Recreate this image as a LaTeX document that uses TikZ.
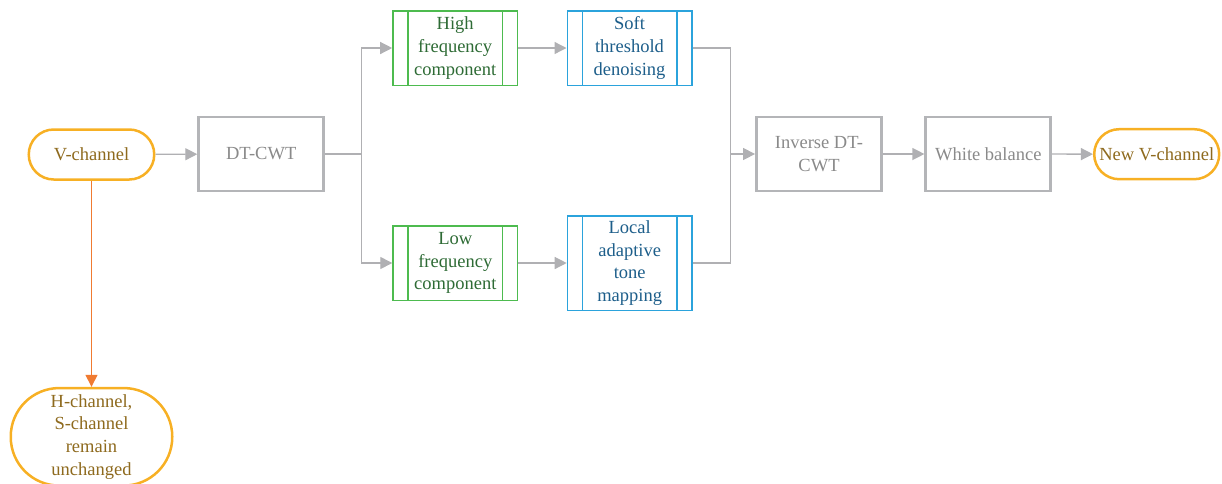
\documentclass[tikz,border=0pt]{standalone}
\usepackage{fontspec}
\setmainfont{Liberation Serif}
\usetikzlibrary{arrows.meta,calc}
\definecolor{orB}{HTML}{F7B024}
\definecolor{orT}{HTML}{8E6A1E}
\definecolor{grB}{HTML}{B4B5B8}
\definecolor{grT}{HTML}{8A8A8A}
\definecolor{gnB}{HTML}{4DBB4F}
\definecolor{gnT}{HTML}{2E6B35}
\definecolor{buB}{HTML}{2BA3DC}
\definecolor{buT}{HTML}{1D5E8A}
\definecolor{arG}{HTML}{B0B0B3}
\definecolor{arO}{HTML}{F07B31}
\begin{document}
\begin{tikzpicture}[x=1pt,y=-1pt,
  base/.style={font=\fontsize{18.5}{22.7}\selectfont, align=center, inner sep=0pt},
  term/.style={base, draw=orB, line width=2.5pt, rounded corners=25pt, text=orT, minimum width=125.5pt, minimum height=50pt},
  proc/.style={base, draw=grB, line width=2.8pt, text=grT, minimum width=125pt, minimum height=74pt},
  subbox/.style 2 args={base, draw=#1, text=#2, line width=1.5pt, minimum width=124.5pt, minimum height=74.5pt,
    path picture={\draw[#1, line width=1.5pt]
      ([xshift=15pt]path picture bounding box.north west) -- ([xshift=15pt]path picture bounding box.south west)
      ([xshift=-15pt]path picture bounding box.north east) -- ([xshift=-15pt]path picture bounding box.south east);}},
  conn/.style={draw=arG, line width=1.3pt},
  arr/.style={conn, -{Triangle[length=12pt,width=12pt]}},
  oarr/.style={draw=arO, line width=1.3pt, -{Triangle[length=12pt,width=12pt]}}]
\useasboundingbox (0,0) rectangle (1222,483);
\node[term] (v) at (91.5,154.5) {V-channel};
\node[proc] (dt) at (261.2,154) {DT-CWT};
\node[subbox={gnB}{gnT}] (hf) at (455.2,48) {High\\frequency\\component};
\node[subbox={buB}{buT}] (st) at (629.5,48) {Soft\\threshold\\denoising};
\node[subbox={gnB}{gnT}] (lf) at (455.3,263) {Low\\frequency\\component};
\node[subbox={buB}{buT}, minimum height=94.5pt] (la) at (629.7,263) {Local\\adaptive\\tone\\mapping};
\node[proc] (inv) at (819,154) {Inverse DT-\\CWT};
\node[proc] (wb) at (988.3,154) {White balance};
\node[term, minimum width=125pt] (nv) at (1156.7,154.2) {New V-channel};
\node[term, rounded corners=48.5pt, minimum width=161.5pt, minimum height=97.5pt] (hs) at (91.5,436.8) {H-channel,\\S-channel\\remain\\unchanged};
\coordinate (br) at (361.5,154);
\coordinate (mg) at (730.5,154);
\draw[arr] (v) -- (dt);
\draw[conn] (dt) -- (br);
\draw[arr] (br) |- (hf);
\draw[arr] (br) |- (lf);
\draw[arr] (hf) -- (st);
\draw[arr] (lf) -- (la);
\draw[conn] (st) -| (mg);
\draw[conn] (la) -| (mg);
\draw[arr] (mg) -- (inv);
\draw[arr] (inv) -- (wb);
\draw[arr] (wb) -- (nv);
\draw[oarr] (v) -- (hs);
\end{tikzpicture}
\end{document}
